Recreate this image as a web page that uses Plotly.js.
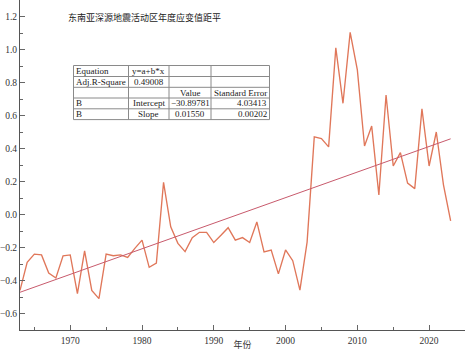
<!DOCTYPE html>
<html>
<head>
<meta charset="utf-8">
<script src="https://cdn.plot.ly/plotly-3.0.1.min.js"></script>
<style>html,body{margin:0;padding:0;background:#fff;}#chart{width:465px;height:351px;}</style>
</head>
<body>
<div id="chart"></div>
<script>
// ---- data ----
const years = [1963,1964,1965,1966,1967,1968,1969,1970,1971,1972,1973,1974,1975,1976,1977,1978,1979,1980,
  1981,1982,1983,1984,1985,1986,1987,1988,1989,1990,1991,1992,1993,1994,1995,1996,1997,1998,1999,2000,
  2001,2002,2003,2004,2005,2006,2007,2008,2009,2010,2011,2012,2013,2014,2015,2016,2017,2018,2019,2020,
  2021,2022,2023];
const anomaly = [-0.46,-0.29,-0.24,-0.245,-0.355,-0.385,-0.25,-0.245,-0.48,-0.22,-0.46,-0.51,-0.24,-0.25,
  -0.245,-0.26,-0.205,-0.155,-0.32,-0.295,0.195,-0.075,-0.175,-0.225,-0.14,-0.108,-0.108,-0.17,-0.126,
  -0.08,-0.155,-0.14,-0.17,-0.045,-0.227,-0.215,-0.36,-0.215,-0.28,-0.458,-0.167,0.47,0.46,0.41,1.01,
  0.674,1.104,0.876,0.415,0.536,0.118,0.724,0.294,0.375,0.19,0.157,0.64,0.294,0.50,0.18,-0.038];
const fitIntercept = -30.89781;
const fitSlope = 0.01550;
const tableRows = [
  ["Equation", "y=a+b*x", "", ""],
  ["Adj.R-Square", "0.49008", "", ""],
  ["", "", "Value", "Standard Error"],
  ["B", "Intercept", "\u221230.89781", "4.03413"],
  ["B", "Slope", "0.01550", "0.00202"]
];
const tableAlign = [
  ["left","center","center","center"],
  ["left","center","center","center"],
  ["left","center","center","center"],
  ["left","center","center","right"],
  ["left","center","center","right"]
];
const chartTitle = "东南亚深源地震活动区年度应变值距平";
const xTitle = "年份";

// ---- layout helpers (pixel -> paper) ----
const W = 465, H = 351, ML = 20, MR = 0, MT = 0, MB = 21;
const PW = W - ML - MR, PH = H - MT - MB;
const px = x => (x - ML) / PW;
const py = y => (MT + PH - y) / PH;

const fitX = [years[0], years[years.length - 1]];
const fitY = fitX.map(v => fitIntercept + fitSlope * v);

const traces = [
  {x: years, y: anomaly, type: 'scatter', mode: 'lines',
   line: {color: '#E0775A', width: 1.35}, hoverinfo: 'skip'},
  {x: fitX, y: fitY, type: 'scatter', mode: 'lines',
   line: {color: '#C85A6C', width: 1}, hoverinfo: 'skip'}
];

const colEdges = [73.5, 128.5, 169, 211, 269.5];
const rowEdges = [65.5, 76.5, 87.3, 98, 108.8, 119.6];
const shapes = [];
const annotations = [];
const grid = '#8a8a8a';
rowEdges.forEach(r => shapes.push({type:'line', xref:'paper', yref:'paper',
  x0: px(colEdges[0]), x1: px(colEdges[colEdges.length-1]), y0: py(r), y1: py(r),
  line:{color:grid, width:1}}));
colEdges.forEach(c => shapes.push({type:'line', xref:'paper', yref:'paper',
  x0: px(c), x1: px(c), y0: py(rowEdges[0]), y1: py(rowEdges[rowEdges.length-1]),
  line:{color:grid, width:1}}));
tableRows.forEach((row, i) => {
  row.forEach((txt, j) => {
    if (!txt) return;
    const al = tableAlign[i][j];
    let x, xa;
    if (al === 'left') { x = colEdges[j] + 1.5; xa = 'left'; }
    else if (al === 'right') { x = colEdges[j+1] - 1.5; xa = 'right'; }
    else { x = (colEdges[j] + colEdges[j+1]) / 2; xa = 'center'; }
    annotations.push({text: txt, xref:'paper', yref:'paper', x: px(x),
      y: py((rowEdges[i] + rowEdges[i+1]) / 2), xanchor: xa, yanchor: 'middle',
      showarrow: false, borderpad: 0,
      font: {family: 'Liberation Serif, Times New Roman, serif', size: 9, color: '#222'}});
  });
});
annotations.push({text: chartTitle, xref:'paper', yref:'paper', x: px(66), y: py(17),
  xanchor:'left', yanchor:'middle', showarrow:false,
  font:{family:'Noto Sans CJK SC, sans-serif', size:9, color:'#222'}});

const axisFont = {family: 'Liberation Serif, Times New Roman, serif', size: 9.5, color: '#333'};
const layout = {
  width: W, height: H,
  margin: {l: ML, r: MR, t: MT, b: MB, pad: 0},
  paper_bgcolor: '#fff', plot_bgcolor: '#fff',
  showlegend: false,
  xaxis: {
    range: [1963, 2025], tick0: 1970, dtick: 10, ticks: 'inside', ticklen: 5, tickcolor: '#666',
    minor: {ticks: 'inside', dtick: 5, tick0: 1965, ticklen: 3, tickcolor: '#666'},
    showgrid: false, zeroline: false, showline: true, linecolor: '#555', linewidth: 1,
    tickfont: axisFont, ticklabelstandoff: 2,
    title: {text: xTitle, font: {family: 'Noto Sans CJK SC, sans-serif', size: 9, color: '#333'}, standoff: 1}
  },
  yaxis: {
    range: [-0.7, 1.3], tick0: 0, dtick: 0.2, tickformat: '.1f', ticks: 'inside', ticklen: 5, tickcolor: '#666',
    minor: {ticks: 'inside', dtick: 0.1, ticklen: 3, tickcolor: '#666'},
    showgrid: false, zeroline: false, showline: true, linecolor: '#555', linewidth: 1,
    tickfont: axisFont
  },
  shapes: shapes,
  annotations: annotations
};
Plotly.newPlot('chart', traces, layout, {staticPlot: true, displayModeBar: false});
</script>
</body>
</html>
